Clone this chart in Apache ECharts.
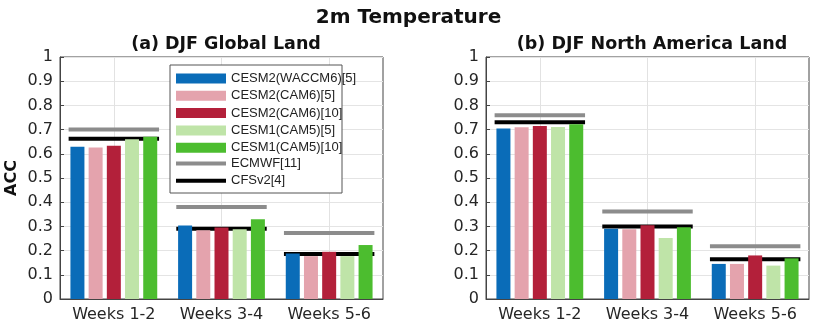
<!DOCTYPE html>
<html>
<head>
<meta charset="utf-8">
<script src="https://cdn.jsdelivr.net/npm/echarts@6/dist/echarts.min.js"></script>
<style>
  html, body { margin: 0; padding: 0; background: #fff; }
  #chart { width: 817px; height: 324px; }
</style>
</head>
<body>
<div id="chart"></div>
<script>
// categories and series values (ACC)
const categories = ['Weeks 1-2', 'Weeks 3-4', 'Weeks 5-6']
const yTicks = [0, 0.1, 0.2, 0.3, 0.4, 0.5, 0.6, 0.7, 0.8, 0.9, 1]

// (a) DJF Global Land
const glbWaccm6_5 = [0.629, 0.304, 0.188]
const glbCam6_5 = [0.626, 0.284, 0.177]
const glbCam6_10 = [0.633, 0.295, 0.195]
const glbCam5_5 = [0.660, 0.288, 0.177]
const glbCam5_10 = [0.670, 0.330, 0.223]
const glbEcmwf = [0.700, 0.380, 0.273]
const glbCfs = [0.662, 0.290, 0.186]

// (b) DJF North America Land
const naWaccm6_5 = [0.705, 0.290, 0.145]
const naCam6_5 = [0.710, 0.288, 0.145]
const naCam6_10 = [0.715, 0.305, 0.180]
const naCam5_5 = [0.711, 0.252, 0.138]
const naCam5_10 = [0.722, 0.296, 0.168]
const naEcmwf = [0.759, 0.362, 0.218]
const naCfs = [0.730, 0.300, 0.164]

const barNames = ['CESM2(WACCM6)[5]', 'CESM2(CAM6)[5]', 'CESM2(CAM6)[10]', 'CESM1(CAM5)[5]', 'CESM1(CAM5)[10]']
const lineNames = ['ECMWF[11]', 'CFSv2[4]']
const barColors = ['#0a6cb8', '#e4a3ad', '#b3203a', '#bfe4a8', '#4cbd2f']
const lineColors = ['#8c8c8c', '#000000']

const font = 'DejaVu Sans'
const chart = echarts.init(document.getElementById('chart'))

const refLine = function (color) {
    return function (params, api) {
        const p = api.coord([api.value(0), api.value(1)])
        const w = api.size([1, 0])[0] * 0.84
        return {
            type: 'line',
            shape: { x1: p[0] - w / 2, y1: p[1], x2: p[0] + w / 2, y2: p[1] },
            style: { stroke: color, lineWidth: 4 }
        }
    }
}

const makeSeries = function (idx, bars, refs) {
    const out = []
    refs.forEach((vals, i) => {
        const s = {
            name: lineNames[i],
            type: 'custom',
            xAxisIndex: idx,
            yAxisIndex: idx,
            z: 1,
            itemStyle: { color: lineColors[i] },
            renderItem: refLine(lineColors[i]),
            data: vals.map((v, k) => [k, v])
        }
        if (i === 0) {
            s.markLine = {
                silent: true,
                z: 0,
                symbol: 'none',
                label: { show: false },
                lineStyle: { color: '#e2e2e2', type: 'solid', width: 1 },
                data: categories.map(c => ({ xAxis: c }))
            }
        }
        out.push(s)
    })
    bars.forEach((vals, i) => {
        out.push({
            name: barNames[i],
            type: 'bar',
            xAxisIndex: idx,
            yAxisIndex: idx,
            z: 2,
            barWidth: 14,
            barGap: '30%',
            itemStyle: { color: barColors[i] },
            data: vals
        })
    })
    return out
}

const xAxisBase = {
    type: 'category',
    data: categories,
    axisLine: { lineStyle: { color: '#444' } },
    axisTick: { show: false },
    axisLabel: { color: '#262626', fontSize: 16, fontFamily: font, margin: 8, interval: 0, hideOverlap: false },
    splitLine: { show: false }
}
const yAxisBase = {
    type: 'value',
    min: yTicks[0],
    max: yTicks[yTicks.length - 1],
    interval: 0.1,
    axisLine: { show: true, lineStyle: { color: '#444' } },
    axisTick: { show: true, inside: true, length: 4, lineStyle: { color: '#444' } },
    axisLabel: { color: '#262626', fontSize: 16, fontFamily: font, margin: 7 },
    splitLine: { lineStyle: { color: '#e4e4e4' } }
}

const legendText = { fontFamily: 'Liberation Sans', fontSize: 13, color: '#222' }

const option = {
    animation: false,
    backgroundColor: '#fff',
    title: [
        { text: '2m Temperature', left: 'center', top: 3,
          textStyle: { fontFamily: font, fontSize: 20, fontWeight: 'bold', color: '#111' } },
        { text: '(a) DJF Global Land', left: 221, top: 30, textAlign: 'center',
          textStyle: { fontFamily: font, fontSize: 17.5, fontWeight: 'bold', color: '#111' } },
        { text: '(b) DJF North America Land', left: 647, top: 30, textAlign: 'center',
          textStyle: { fontFamily: font, fontSize: 17.5, fontWeight: 'bold', color: '#111' } }
    ],
    graphic: [{
        type: 'rect',
        z: 3,
        shape: { x: 170, y: 65, width: 172, height: 128 },
        style: { fill: '#fff', stroke: '#555', lineWidth: 1 }
    }],
    legend: [
        {
            orient: 'vertical', left: 176, top: 72, padding: 0, itemGap: 4.3,
            itemWidth: 50, itemHeight: 10, z: 5,
            textStyle: legendText,
            data: barNames.map(n => ({ name: n, icon: 'rect' }))
        },
        {
            orient: 'vertical', left: 176, top: 157, padding: 0, itemGap: 4.3,
            itemWidth: 50, itemHeight: 4, z: 5,
            textStyle: legendText,
            data: lineNames.map(n => ({ name: n, icon: 'rect' }))
        }
    ],
    grid: [
        { left: 60, right: 434, top: 57, bottom: 25, show: true, borderColor: '#444', borderWidth: 1 },
        { left: 486, right: 8, top: 57, bottom: 25, show: true, borderColor: '#444', borderWidth: 1 }
    ],
    xAxis: [
        { ...xAxisBase, gridIndex: 0 },
        { ...xAxisBase, gridIndex: 1 }
    ],
    yAxis: [
        { ...yAxisBase, gridIndex: 0, name: 'ACC', nameLocation: 'middle', nameRotate: 90, nameGap: 40,
          nameTextStyle: { fontFamily: font, fontSize: 16, fontWeight: 'bold', color: '#111' } },
        { ...yAxisBase, gridIndex: 1 }
    ],
    series: [
        ...makeSeries(0, [glbWaccm6_5, glbCam6_5, glbCam6_10, glbCam5_5, glbCam5_10], [glbEcmwf, glbCfs]),
        ...makeSeries(1, [naWaccm6_5, naCam6_5, naCam6_10, naCam5_5, naCam5_10], [naEcmwf, naCfs])
    ]
}
chart.setOption(option)
</script>
</body>
</html>
